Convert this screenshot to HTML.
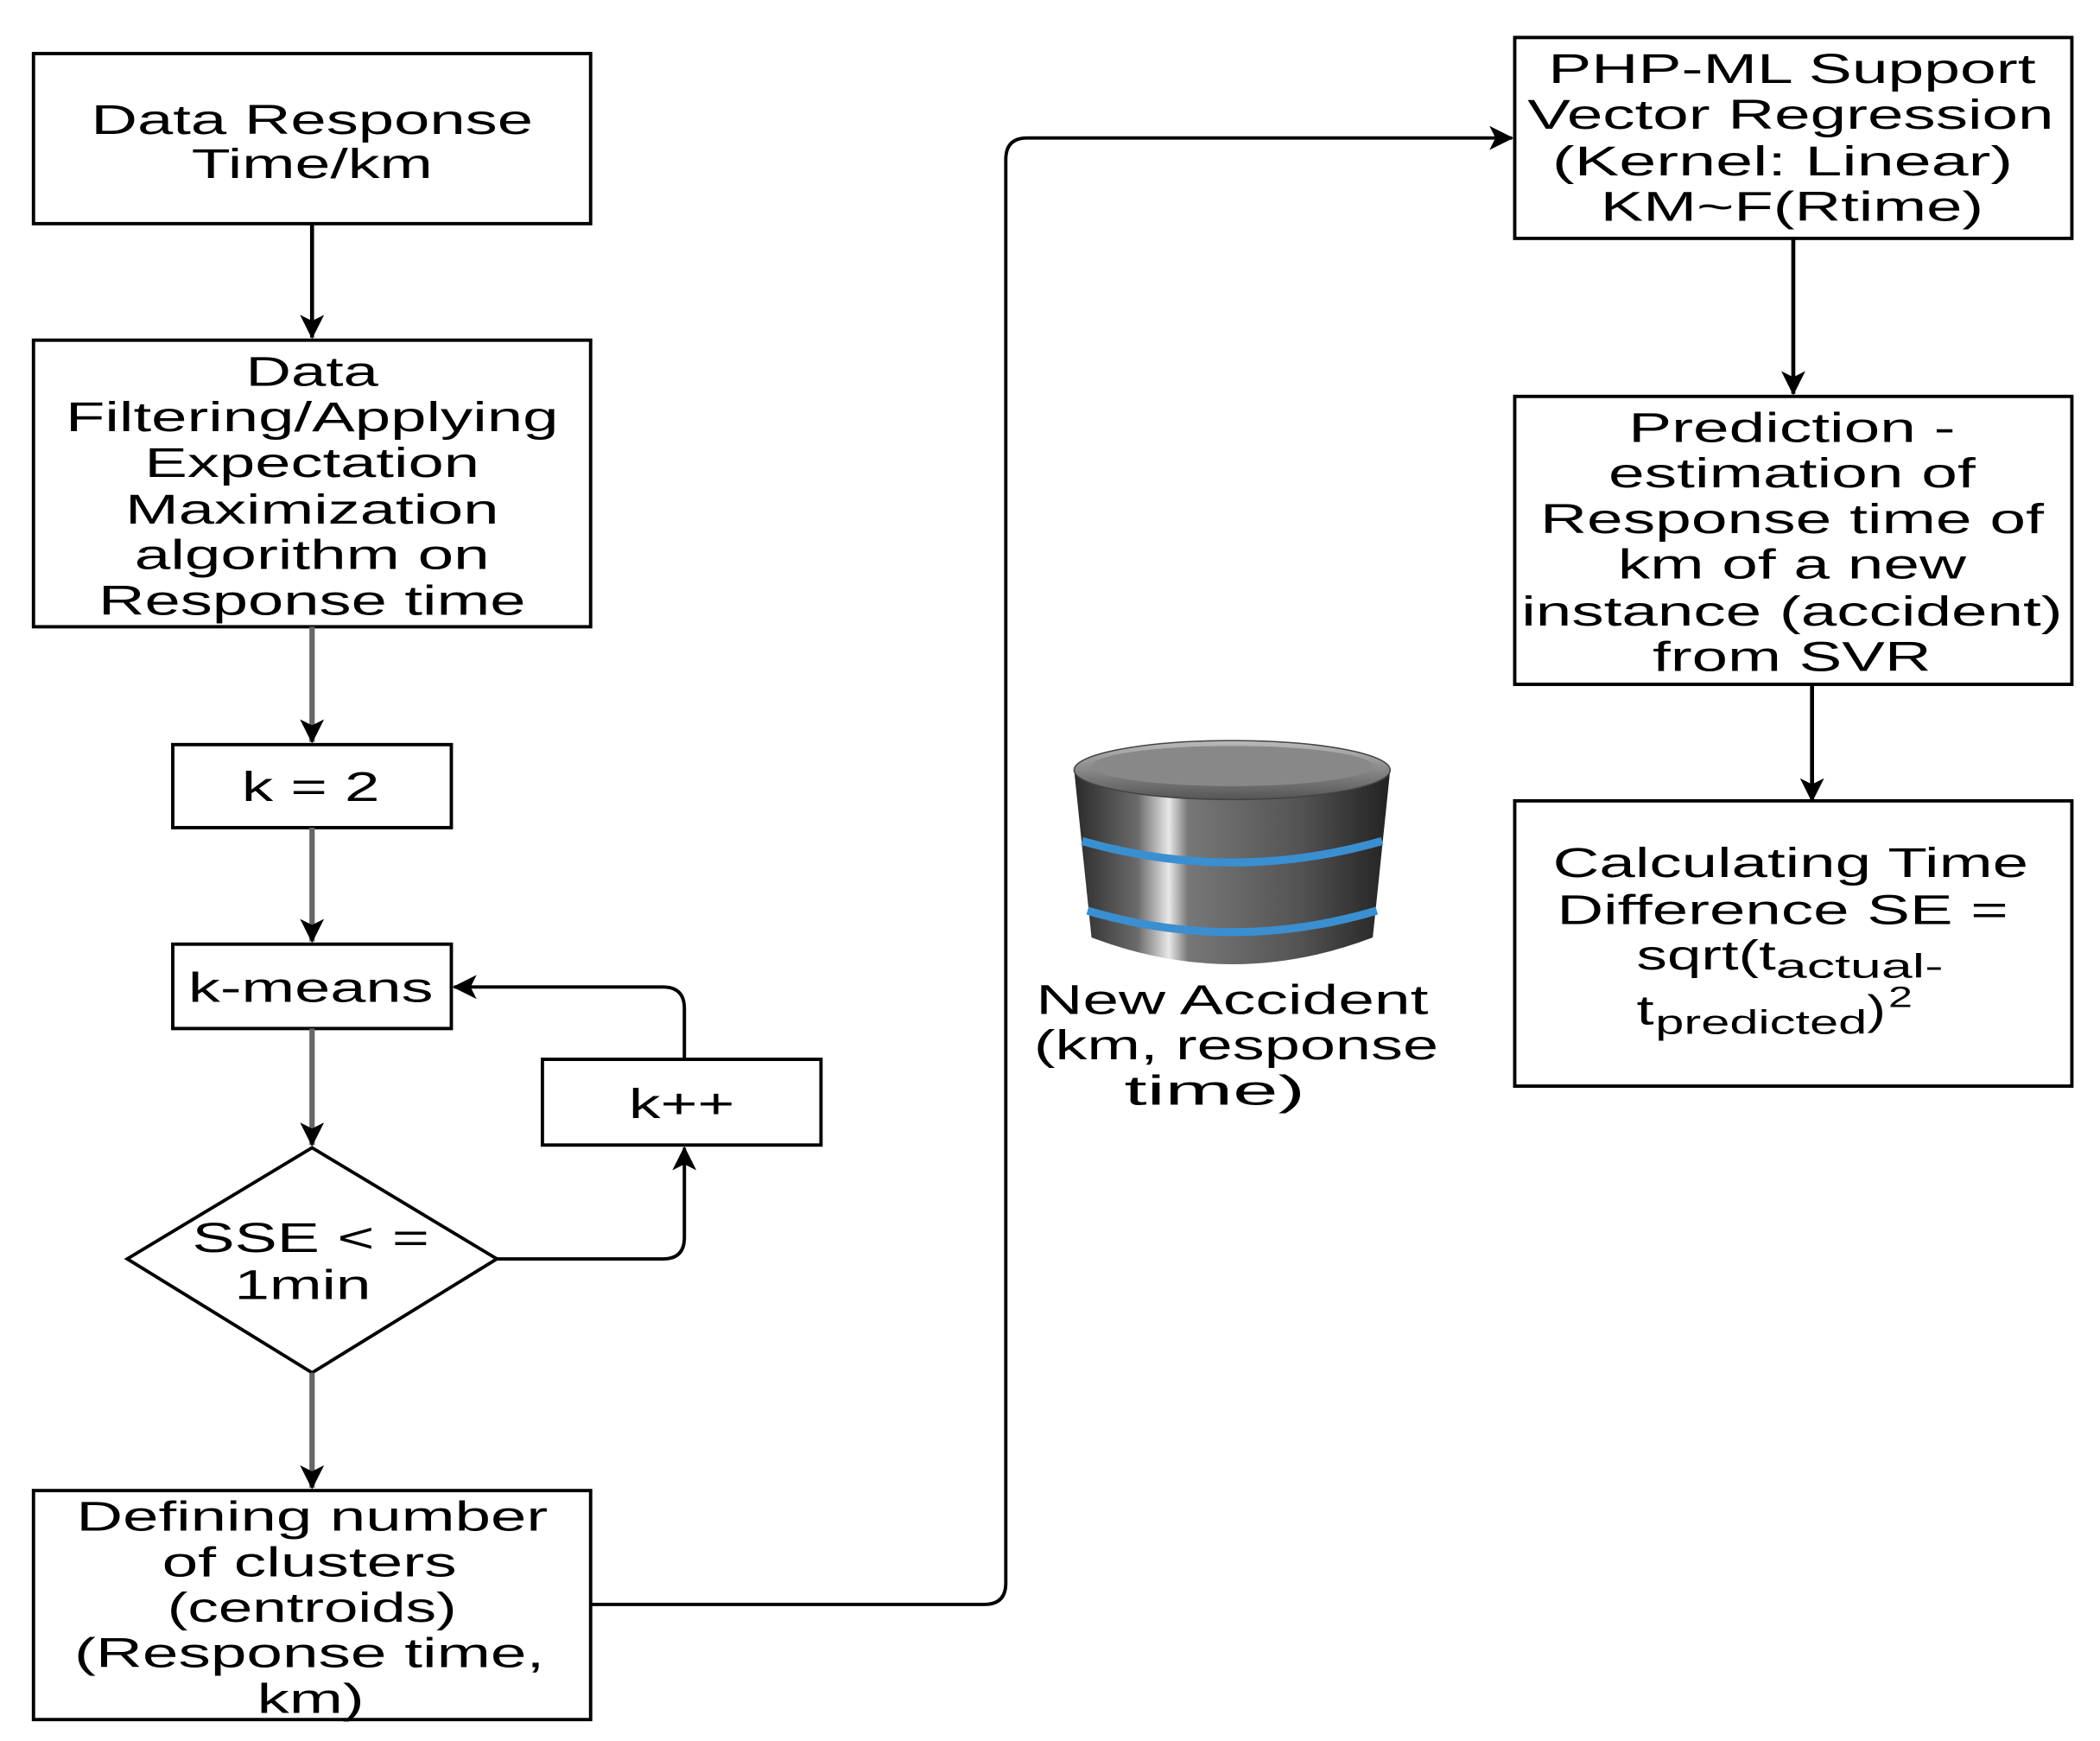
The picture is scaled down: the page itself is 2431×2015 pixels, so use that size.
<!DOCTYPE html>
<html><head><meta charset="utf-8"><style>html,body{margin:0;padding:0;background:#fff}svg{display:block}</style></head>
<body>
<svg width="2431" height="2015" viewBox="0 0 1568 1300" preserveAspectRatio="none" xmlns="http://www.w3.org/2000/svg" font-family="Liberation Sans, sans-serif" font-size="31" fill="#000">
<defs>
<marker id="a" markerWidth="18" markerHeight="18" refX="15" refY="8" orient="auto" markerUnits="userSpaceOnUse" viewBox="0 0 16 16"><path d="M0,0 L16,8 L0,16 L4,8z" fill="#000"/></marker>
<linearGradient id="g" x1="0" x2="1"><stop offset="0" stop-color="#2a2a2a"/><stop offset="0.2" stop-color="#6a6a6a"/><stop offset="0.3" stop-color="#e8e8e8"/><stop offset="0.36" stop-color="#777"/><stop offset="0.7" stop-color="#555"/><stop offset="1" stop-color="#222"/></linearGradient>
<linearGradient id="t" x1="0" y1="0" x2="0" y2="1"><stop offset="0" stop-color="#bbb"/><stop offset="1" stop-color="#555"/></linearGradient>
</defs>
<g fill="none" stroke="#000" stroke-width="2.5">
<rect x="25" y="40" width="416" height="127"/>
<rect x="25" y="254" width="416" height="214"/>
<rect x="129" y="556" width="208" height="62"/>
<rect x="129" y="705" width="208" height="63"/>
<rect x="405" y="791" width="208" height="64"/>
<polygon points="233,857 371,940 233,1025 95,940"/>
<rect x="25" y="1113" width="416" height="171"/>
<rect x="1131" y="28" width="416" height="150"/>
<rect x="1131" y="296" width="416" height="215"/>
<rect x="1131" y="598" width="416" height="213"/>
<line x1="233" y1="167" x2="233" y2="252" stroke-width="3" marker-end="url(#a)"/>
<line x1="233" y1="468" x2="233" y2="554" stroke="#666" stroke-width="4" marker-end="url(#a)"/>
<line x1="233" y1="618" x2="233" y2="703" stroke="#666" stroke-width="4" marker-end="url(#a)"/>
<line x1="233" y1="768" x2="233" y2="855" stroke="#666" stroke-width="4" marker-end="url(#a)"/>
<line x1="233" y1="1025" x2="233" y2="1111" stroke="#666" stroke-width="4" marker-end="url(#a)"/>
<path d="M371,940 H495 Q511,940 511,924 V857" marker-end="url(#a)"/>
<path d="M511,791 V753 Q511,737 495,737 H339" marker-end="url(#a)"/>
<path d="M441,1198 H735 Q751,1198 751,1182 V119 Q751,103 767,103 H1129" marker-end="url(#a)"/>
<line x1="1339" y1="178" x2="1339" y2="294" stroke-width="3" marker-end="url(#a)"/>
<line x1="1353" y1="511" x2="1353" y2="598" stroke-width="3" marker-end="url(#a)"/>
</g>
<path d="M802,575 L815,700 Q920,740 1025,700 L1038,575 Z" fill="url(#g)"/>
<ellipse cx="920" cy="575" rx="118" ry="22" fill="url(#t)" stroke="#444"/>
<ellipse cx="920" cy="572" rx="105" ry="15" fill="#888"/>
<path d="M808,628 Q920,660 1032,628" fill="none" stroke="#3a8fd0" stroke-width="6"/>
<path d="M812,680 Q920,712 1028,680" fill="none" stroke="#3a8fd0" stroke-width="6"/>
<g text-anchor="middle">
<text x="233" y="100" textLength="330" lengthAdjust="spacingAndGlyphs">Data Response</text>
<text x="233" y="133" textLength="180" lengthAdjust="spacingAndGlyphs">Time/km</text>
<text x="233" y="288" textLength="99" lengthAdjust="spacingAndGlyphs">Data</text>
<text x="233" y="322" textLength="368" lengthAdjust="spacingAndGlyphs">Filtering/Applying</text>
<text x="233" y="356" textLength="250" lengthAdjust="spacingAndGlyphs">Expectation</text>
<text x="233" y="391" textLength="279" lengthAdjust="spacingAndGlyphs">Maximization</text>
<text x="233" y="425" textLength="265" lengthAdjust="spacingAndGlyphs">algorithm on</text>
<text x="233" y="459" textLength="319" lengthAdjust="spacingAndGlyphs">Response time</text>
<text x="232" y="598" textLength="103" lengthAdjust="spacingAndGlyphs">k = 2</text>
<text x="232" y="748" textLength="183" lengthAdjust="spacingAndGlyphs">k-means</text>
<text x="509" y="835" textLength="79" lengthAdjust="spacingAndGlyphs">k++</text>
<text x="232" y="935" textLength="177" lengthAdjust="spacingAndGlyphs">SSE &lt; =</text>
<text x="226" y="970" textLength="102" lengthAdjust="spacingAndGlyphs">1min</text>
<text x="233" y="1143" textLength="352" lengthAdjust="spacingAndGlyphs">Defining number</text>
<text x="231" y="1177" textLength="220" lengthAdjust="spacingAndGlyphs">of clusters</text>
<text x="233" y="1211" textLength="216" lengthAdjust="spacingAndGlyphs">(centroids)</text>
<text x="231" y="1245" textLength="351" lengthAdjust="spacingAndGlyphs">(Response time,</text>
<text x="232" y="1279" textLength="80" lengthAdjust="spacingAndGlyphs">km)</text>
<text x="1338" y="62" textLength="364" lengthAdjust="spacingAndGlyphs">PHP-ML Support</text>
<text x="1337" y="96" textLength="393" lengthAdjust="spacingAndGlyphs">Vector Regression</text>
<text x="1331" y="131" textLength="344" lengthAdjust="spacingAndGlyphs">(Kernel: Linear)</text>
<text x="1338" y="165" textLength="286" lengthAdjust="spacingAndGlyphs">KM~F(Rtime)</text>
<text x="1338" y="330" textLength="244" lengthAdjust="spacingAndGlyphs">Prediction -</text>
<text x="1338" y="364" textLength="274" lengthAdjust="spacingAndGlyphs">estimation of</text>
<text x="1338" y="398" textLength="376" lengthAdjust="spacingAndGlyphs">Response time of</text>
<text x="1338" y="432" textLength="260" lengthAdjust="spacingAndGlyphs">km of a new</text>
<text x="1338" y="467" textLength="404" lengthAdjust="spacingAndGlyphs">instance (accident)</text>
<text x="1338" y="501" textLength="208" lengthAdjust="spacingAndGlyphs">from SVR</text>
<text x="1337" y="655" textLength="355" lengthAdjust="spacingAndGlyphs">Calculating Time</text>
<text x="1331" y="690" textLength="337" lengthAdjust="spacingAndGlyphs">Difference SE =</text>
<text x="920" y="757" textLength="293" lengthAdjust="spacingAndGlyphs">New Accident</text>
<text x="923" y="791" textLength="302" lengthAdjust="spacingAndGlyphs">(km, response</text>
<text x="907" y="825" textLength="135" lengthAdjust="spacingAndGlyphs">time)</text>
</g>
<text x="1222" y="724" textLength="104" lengthAdjust="spacingAndGlyphs">sqrt(t</text>
<text x="1326" y="730" font-size="25" textLength="125" lengthAdjust="spacingAndGlyphs">actual-</text>
<text x="1222" y="765" textLength="13" lengthAdjust="spacingAndGlyphs">t</text>
<text x="1236" y="772" font-size="25" textLength="158" lengthAdjust="spacingAndGlyphs">predicted</text>
<text x="1394" y="765" textLength="14" lengthAdjust="spacingAndGlyphs">)</text>
<text x="1410" y="752" font-size="22" textLength="18" lengthAdjust="spacingAndGlyphs">2</text>
</svg>
</body></html>
